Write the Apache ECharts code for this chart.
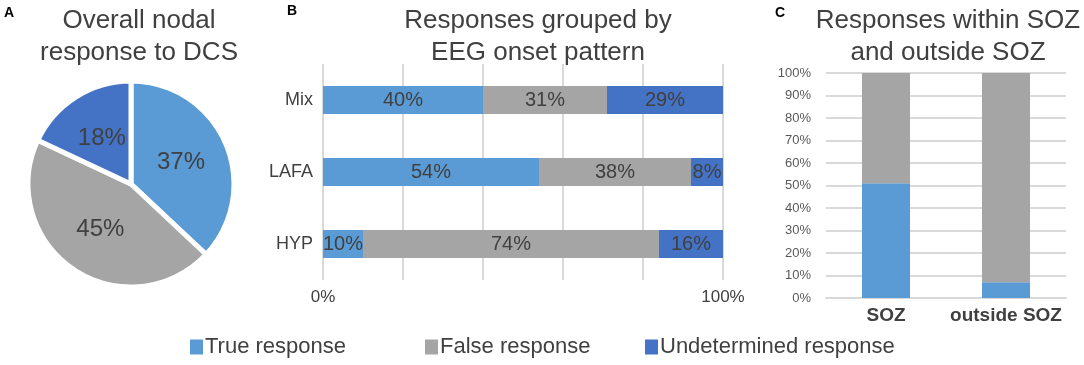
<!DOCTYPE html>
<html>
<head>
<meta charset="utf-8">
<style>
  html, body { margin: 0; padding: 0; background: #fff; }
  #main { width: 1084px; height: 365px; }
</style>
<script src="https://cdn.jsdelivr.net/npm/echarts@6/dist/echarts.min.js"></script>
</head>
<body>
<div id="main"></div>
<script>
// legend / pie names
const responseNames = ['True response', 'False response', 'Undetermined response']
const responseColors = ['#5B9BD5', '#A5A5A5', '#4472C4']

// A: overall nodal response
const overallValues = [37, 45, 18]

// B: by EEG onset pattern
const onsetCats = ['Mix', 'LAFA', 'HYP']
const onsetTrue = [40, 54, 10]
const onsetFalse = [31, 38, 74]
const onsetUndet = [29, 8, 16]

// C: within / outside SOZ
const sozCats = ['SOZ', 'outside SOZ']
const sozTrue = [51, 7]
const sozFalse = [49, 93]

const font = "'Liberation Sans', Arial, sans-serif"
const txt = '#404040'
const gridColor = '#D9D9D9'

const myChart = echarts.init(document.getElementById('main'), null, { renderer: 'canvas' })

function titleOf (text, x) {
  return {
    text: text,
    left: x,
    top: 0,
    textAlign: 'center',
    textStyle: { fontFamily: font, fontSize: 26, fontWeight: 'normal', color: txt, lineHeight: 32 }
  }
}
function letterOf (text, x, y) {
  return {
    text: text,
    left: x,
    top: y,
    padding: 0,
    textStyle: { fontFamily: font, fontSize: 14, fontWeight: 'bold', color: '#000' }
  }
}
function legendOf (i, x) {
  return {
    data: [responseNames[i]],
    left: x,
    top: 336,
    padding: 0,
    icon: 'rect',
    itemWidth: 13,
    itemHeight: 15,
    selectedMode: false,
    textStyle: { fontFamily: font, fontSize: 22, color: txt, padding: [0, 0, 0, -3] }
  }
}
function onsetBar (i, data) {
  return {
    name: responseNames[i],
    type: 'bar',
    stack: 'onset',
    xAxisIndex: 0,
    yAxisIndex: 0,
    barWidth: 28,
    itemStyle: { color: responseColors[i] },
    label: {
      show: true,
      position: 'inside',
      formatter: '{c}%',
      fontFamily: font,
      fontSize: 20,
      color: txt
    },
    data: data
  }
}
function sozBar (i, data) {
  return {
    name: responseNames[i],
    type: 'bar',
    stack: 'soz',
    xAxisIndex: 1,
    yAxisIndex: 1,
    barWidth: 48,
    itemStyle: { color: responseColors[i] },
    data: data
  }
}

const option = {
  backgroundColor: '#fff',
  animation: false,
  title: [
    titleOf('Overall nodal\nresponse to DCS', 134),
    titleOf('Responses grouped by\nEEG onset pattern', 533),
    titleOf('Responses within SOZ\nand outside SOZ', 943),
    letterOf('A', 4, 6),
    letterOf('B', 287, 4),
    letterOf('C', 775, 6)
  ],
  legend: [legendOf(0, 190), legendOf(1, 425), legendOf(2, 645)],
  grid: [
    { left: 323, top: 64, width: 400, height: 216 },
    { left: 826, top: 73, width: 240, height: 225 }
  ],
  xAxis: [
    {
      gridIndex: 0,
      type: 'value',
      min: 0,
      max: 100,
      interval: 20,
      axisLine: { show: false },
      axisTick: { show: false },
      axisLabel: {
        margin: 9,
        fontFamily: font,
        fontSize: 17,
        color: txt,
        formatter: function (v) { return (v === 0 || v === 100) ? v + '%' : '' }
      },
      splitLine: { show: true, lineStyle: { color: gridColor, width: 2 } }
    },
    {
      gridIndex: 1,
      type: 'category',
      data: sozCats,
      axisLine: { show: true, lineStyle: { color: gridColor, width: 2 } },
      axisTick: { show: false },
      axisLabel: { interval: 0, hideOverlap: false, margin: 8, fontFamily: font, fontSize: 19, fontWeight: 'bold', color: txt }
    }
  ],
  yAxis: [
    {
      gridIndex: 0,
      type: 'category',
      data: onsetCats,
      inverse: true,
      axisLine: { show: false },
      axisTick: { show: false },
      axisLabel: { margin: 10, fontFamily: font, fontSize: 18, color: txt }
    },
    {
      gridIndex: 1,
      type: 'value',
      min: 0,
      max: 100,
      interval: 10,
      axisLine: { show: false },
      axisTick: { show: false },
      axisLabel: { margin: 15, fontFamily: font, fontSize: 13, color: '#595959', formatter: '{value}%' },
      splitLine: { show: true, lineStyle: { color: gridColor, width: 2 } }
    }
  ],
  series: [
    {
      name: 'overall',
      type: 'pie',
      center: [131, 184],
      radius: 103,
      startAngle: 90,
      clockwise: true,
      itemStyle: { borderColor: '#fff', borderWidth: 5 },
      label: {
        show: true,
        position: 'inside',
        formatter: '{c}%',
        fontFamily: font,
        fontSize: 24,
        color: txt
      },
      labelLine: { show: false },
      data: responseNames.map(function (n, i) {
        return { name: n, value: overallValues[i], itemStyle: { color: responseColors[i] } }
      })
    },
    onsetBar(0, onsetTrue),
    onsetBar(1, onsetFalse),
    onsetBar(2, onsetUndet),
    sozBar(0, sozTrue),
    sozBar(1, sozFalse)
  ]
}
myChart.setOption(option)
window.addEventListener('resize', function () {
  myChart.resize()
})
</script>
</body>
</html>
